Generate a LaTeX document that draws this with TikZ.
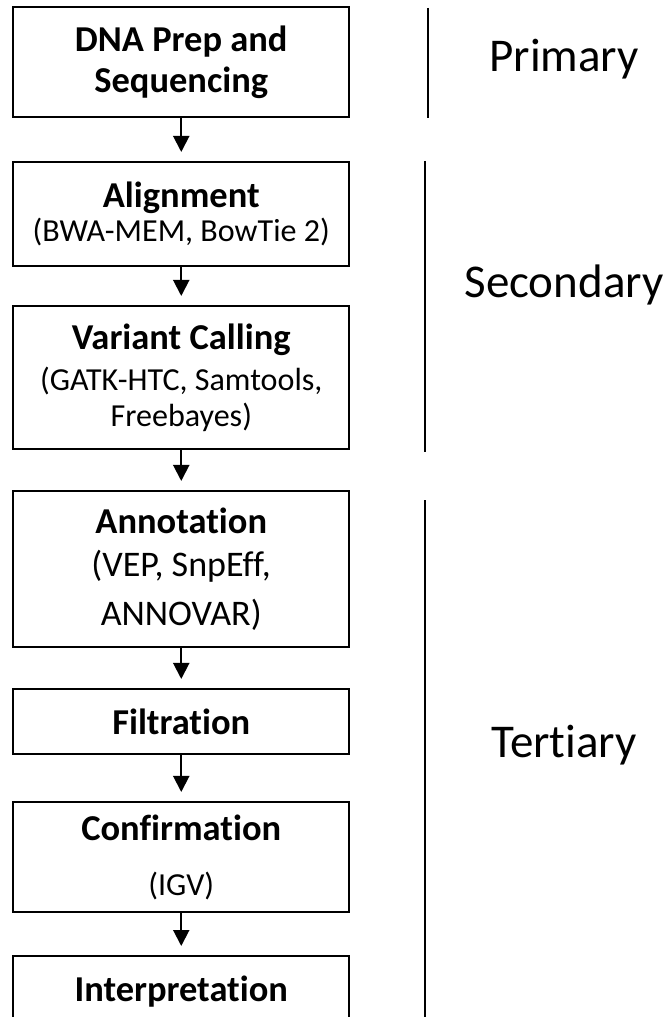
\documentclass[tikz,border=0pt]{standalone}
\usepackage{fontspec}
\setmainfont{Carlito}[Ligatures=NoCommon]
\usetikzlibrary{arrows.meta,positioning}

\newcommand{\titlefont}{\fontsize{41.5}{46.7}\selectfont\bfseries}
\newcommand{\toolfont}{\fontsize{36.5}{41}\selectfont}

\begin{document}
\begin{tikzpicture}[
    stagebox/.style={draw, line width=2.3pt, minimum width=13.44cm,
                     align=center, inner sep=0pt, font=\toolfont},
    flow/.style={-{Triangle[width=0.64cm,length=0.64cm]}, line width=2.3pt,
                 shorten >=0.36cm},
    phase/.style={line width=2.5pt},
    phaselabel/.style={font=\fontsize{53.5}{60}\selectfont},
]
\useasboundingbox (0,0) rectangle (26.68,-40.68);
\clip (0,0) rectangle (26.68,-40.68);

% ---- Pipeline stages ----
\node[stagebox, minimum height=4.40cm, font=\titlefont] (prep) at (7.25,-2.48)
    {DNA Prep and\\Sequencing};
\node[stagebox, minimum height=4.16cm] (align) at (7.25,-8.56)
    {{\titlefont Alignment}\\[-2.3pt](BWA-MEM, BowTie 2)};
\node[stagebox, minimum height=5.72cm] (call) at (7.25,-15.10)
    {{\titlefont Variant Calling}\\[5.7pt](GATK-HTC, Samtools,\\Freebayes)};
\node[stagebox, minimum height=6.24cm, font=\fontsize{41}{49}\selectfont] (annot) at (7.25,-22.76)
    {{\titlefont Annotation}\\(VEP, SnpEff,\\[6.8pt]ANNOVAR)};
\node[stagebox, minimum height=2.60cm] (filter) at (7.25,-28.86)
    {{\titlefont Filtration}};
\node[stagebox, minimum height=4.40cm] (confirm) at (7.25,-34.28)
    {{\titlefont Confirmation}\\[21.6pt](IGV)};
\node[stagebox, minimum height=2.88cm] (interp) at (7.25,-39.68)
    {{\titlefont Interpretation}};

% ---- Flow arrows ----
\draw[flow] (prep)    -- (align);
\draw[flow] (align)   -- (call);
\draw[flow] (call)    -- (annot);
\draw[flow] (annot)   -- (filter);
\draw[flow] (filter)  -- (confirm);
\draw[flow] (confirm) -- (interp);

% ---- Analysis phases ----
\draw[phase] (17.12,-0.32) -- (17.12,-4.72);
\draw[phase] (17.0,-6.44)  -- (17.0,-18.08);
\draw[phase] (17.0,-20.0)  -- (17.0,-40.68);

\node[phaselabel] (primary)   at (22.56,-2.36) {Primary};
\node[phaselabel] (secondary) at (22.56,-11.4) {Secondary};
\node[phaselabel] (tertiary)  at (22.56,-29.8) {Tertiary};
\end{tikzpicture}
\end{document}
